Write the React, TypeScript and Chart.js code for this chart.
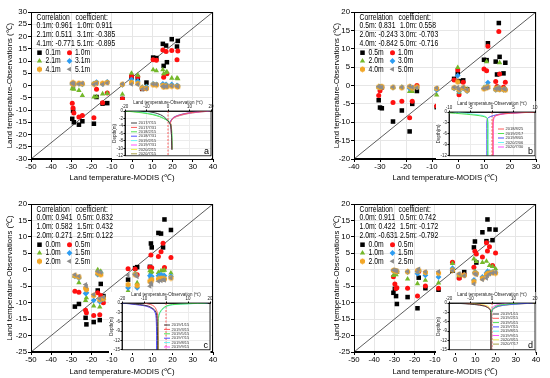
import { useEffect, useRef } from 'react';
import { Chart, registerables } from 'chart.js';
import { drawPoint } from 'chart.js/helpers';

Chart.register(...registerables);

const FONT = "'Liberation Sans', Arial, Helvetica, sans-serif";

// ---------------- Panel a ----------------
const aModis = [-29.6, -29.2, -28.8, -26.3, -24.6, -18.9, -17.6, -14.6, -12.3, -4.8, -0.3, 2.8, 5.0, 7.1, 10.4, 12.0, 15.2, 15.6, 16.8, 17.2, 19.6, 22.2, 22.6];
const aObs01 = [-13.6, -10.3, -15.0, -16.0, -14.6, -15.6, -4.7, -7.4, -7.2, -5.5, 3.4, 2.9, -1.4, 1.2, 11.4, 11.2, 17.0, 8.0, 16.3, 9.5, 18.9, 15.9, 18.2];
const aObs10 = [-7.2, -9.2, -11.2, -12.9, -12.2, -13.2, -1.5, -7.0, -3.1, -5.5, 3.9, 3.6, -1.2, -1.1, 10.5, 10.3, 14.5, 3.4, 13.9, 4.8, 14.3, 10.5, 14.1];
const aObs21 = [-1.3, -0.5, -1.5, -2.0, -4.1, -4.7, -4.6, -3.4, -3.2, -3.6, 5.0, 4.2, -0.8, -0.4, 6.4, 6.0, 6.4, 4.8, 5.3, 5.6, 3.0, 3.0, 2.8];
const aObs31 = [0.6, 0.9, 0.3, 0.7, 0.5, 0.8, 1.4, 0.6, 1.5, 0.3, 2.4, 1.8, -0.8, -0.6, 0.7, 0.5, 0.7, -0.4, 0.5, -0.2, 0.4, 0.0, -0.2];
const aObs41 = [0.8, 1.1, 0.5, 0.9, 0.7, 0.6, 1.0, 0.9, 1.2, 0.5, 1.2, 0.8, -1.0, -1.2, 0.3, 0.2, 0.0, -0.6, -0.2, -0.5, -0.3, -0.4, -0.5];
const aObs51 = [1.0, 0.6, 0.8, 0.6, 0.9, 0.4, 0.8, 0.5, 1.0, 0.6, 0.5, 0.4, -1.5, -1.3, 0.5, 0.4, -0.3, -0.5, -0.4, -0.3, -0.2, -0.3, -0.4];
const aDepths = ['0.1m', '1.0m', '2.1m', '3.1m', '4.1m', '5.1m'];
const aCorr = ['0.961', '0.911', '0.511', '-0.385', '-0.771', '-0.895'];

const aInsetDepth = [0, -0.5, -1, -1.5, -2, -3, -4, -6, -8, -10.3];
const aInsetDates = ['2017/7/15', '2017/7/31', '2018/2/15', '2018/7/31', '2019/2/15', '2019/7/31', '2020/2/15', '2020/7/15'];
const aProfiles = [
  [-11, -6, -3.5, -2, -1, 0.5, 1.3, 1.6, 1.7, 1.8],
  [18, 10, 6, 3.5, 2.2, 1.2, 1.4, 1.6, 1.7, 1.8],
  [-20, -12, -7, -4, -2, 0.8, 1.5, 1.8, 1.9, 2.0],
  [17, 9.5, 5.5, 3.2, 2.0, 1.1, 1.4, 1.6, 1.7, 1.8],
  [-17, -10, -6, -3.5, -1.8, 0.7, 1.4, 1.7, 1.8, 1.9],
  [19.5, 11, 6.5, 3.8, 2.3, 1.0, 1.4, 1.6, 1.7, 1.8],
  [-19, -11, -6.5, -3.8, -1.9, 0.8, 1.5, 1.7, 1.8, 1.9],
  [20, 11.5, 7, 4, 2.4, 1.1, 1.4, 1.6, 1.7, 1.8],
];

// ---------------- Panel b ----------------
const bModis = [-30.5, -30.0, -29.3, -25.0, -21.6, -18.6, -17.6, -15.8, -8.2, -1.5, -0.1, 0.4, 2.0, 3.5, 10.0, 11.0, 11.5, 14.5, 15.0, 15.7, 16.0, 17.5, 18.2];
const bObs05 = [-4.0, -6.0, -6.2, -9.8, -6.8, -12.5, -5.0, -1.5, -5.9, 1.8, 3.2, 1.2, 1.4, -1.0, 7.0, 6.9, 11.5, 6.5, 3.0, 17.0, 7.8, 3.3, 6.2];
const bObs10 = [-2.7, -1.4, -0.6, -4.6, -4.3, -8.8, -4.3, 0.0, -5.6, 1.5, 4.2, -2.5, 0.9, -1.3, 4.5, 4.0, 10.7, 1.1, -0.3, 14.7, 3.1, -0.5, 0.9];
const bObs20 = [-0.4, -0.5, -0.6, -0.5, -0.5, -1.6, -1.6, -0.5, -2.6, -0.8, 4.9, -1.8, -0.7, -1.0, -0.6, 6.5, -0.5, -0.8, -0.7, -0.6, 6.2, -0.9, -1.0];
const bObs30 = [-0.5, -0.3, -0.4, -0.6, -0.5, -0.8, -0.6, -0.5, -1.2, -0.8, 2.7, -1.6, -0.8, -1.5, -0.8, -0.3, 0.8, -1.2, -1.0, -0.5, -1.0, -1.2, -1.1];
const bObs40 = [-0.4, -0.5, -0.3, -0.5, -0.6, -0.3, -0.7, -0.4, -0.8, -0.6, 1.0, -1.2, -0.6, -1.3, -0.9, -0.6, -0.4, -1.0, -0.8, -0.7, -1.1, -1.0, -1.2];
const bObs50 = [-0.3, -0.4, -0.5, -0.4, -0.5, -0.2, -0.5, -0.6, -0.7, -0.5, -0.5, -1.0, -0.5, -1.1, -0.8, -0.7, -0.5, -0.9, -0.8, -0.6, -1.0, -0.9, -1.0];
const bDepths = ['0.5m', '1.0m', '2.0m', '3.0m', '4.0m', '5.0m'];
const bCorr = ['0.831', '0.558', '-0.243', '-0.703', '-0.842', '-0.716'];

const bInsetDepth = [0, -0.5, -1, -1.5, -2, -3, -6, -9, -12];
const bInsetDates = ['2018/8/25', '2019/2/17', '2019/8/05', '2020/2/06', '2020/7/30'];
const bProfiles = [
  [10.5, 2.5, 0.8, 0.4, 0.3, 0.2, 0.2, 0.2, 0.2],
  [-13, -7, -3, -1.3, -1.1, -1.0, -1.0, -1.0, -1.0],
  [9, 2.2, 0.3, -0.8, -1.1, -1.2, -1.2, -1.2, -1.2],
  [-9, -5, -2, -1.2, -1.0, -0.9, -0.9, -0.9, -0.9],
  [9.5, 3.0, 1.0, 0.6, 0.4, 0.3, 0.3, 0.3, 0.3],
];

// ---------------- Panel c ----------------
const cModis = [-28.3, -26.3, -23.0, -22.6, -19.0, -17.0, -16.0, -15.5, -14.2, -9.0, -2.0, 1.5, 2.5, 8.8, 9.3, 9.7, 13.0, 14.3, 15.3, 16.0, 19.2];
const cObs00 = [-11.2, -10.4, -14.6, -16.6, -15.9, -6.3, -15.3, -4.3, -8.0, -8.5, -3.0, 0.5, 0.8, 0.9, 8.0, 6.8, 11.2, 11.0, 6.8, 15.3, 12.1];
const cObs05 = [-6.5, -6.8, -12.3, -13.1, -13.9, -7.0, -13.7, -7.8, -10.0, -9.5, 0.3, 0.2, -1.5, 0.8, 4.5, 0.6, 4.0, 5.5, 8.1, 0.7, 3.7];
const cObs10 = [-2.0, -3.9, -9.3, -8.5, -11.0, 0.0, -11.3, -0.5, -8.5, -9.5, -6.4, -1.0, -4.0, -0.3, -0.8, -0.5, -0.8, -0.3, -0.3, -0.1, -1.0];
const cObs15 = [-2.0, -2.5, -7.2, -7.0, -9.3, -1.5, -9.7, -1.0, -9.0, -9.0, -5.5, -1.3, -5.5, -1.8, -2.5, -2.0, -1.8, -1.5, -1.8, -1.8, -2.0];
const cObs20 = [-1.8, -2.2, -5.6, -6.0, -7.8, -1.0, -9.1, -1.5, -8.8, -8.7, -4.5, -1.5, -4.8, -3.5, -3.5, -3.0, -2.8, -2.6, -2.8, -2.8, -2.5];
const cObs25 = [-1.5, -2.0, -4.5, -5.0, -7.5, -0.5, -8.8, -0.8, -8.3, -8.0, -1.7, -1.5, -2.1, -5.0, -4.0, -4.5, -3.5, -3.3, -3.0, -3.2, -2.5];
const cDepths = ['0.0m', '0.5m', '1.0m', '1.5m', '2.0m', '2.5m'];
const cCorr = ['0.941', '0.832', '0.582', '0.432', '0.271', '0.122'];

const cInsetDepth = [0, -0.5, -1, -2, -3, -4, -6, -9, -12, -15];
const cInsetDates = ['2019/1/15', '2019/3/15', '2019/5/15', '2019/7/15', '2019/8/15', '2019/9/15'];
const cProfiles = [
  [-19, -12, -8, -5.5, -4.5, -4.2, -4.0, -3.9, -3.8, -3.8],
  [-10, -7, -5.5, -4.5, -4.0, -3.8, -3.7, -3.6, -3.6, -3.6],
  [18, 3, 0, -1.8, -2.8, -3.3, -3.5, -3.5, -3.4, -3.4],
  [-20, -14, -9, -6, -5, -4.6, -4.4, -4.3, -4.3, -4.3],
  [19, 4, 0.5, -1.5, -2.6, -3.2, -3.6, -3.7, -3.8, -3.8],
  [-18, -13, -8.5, -5.8, -4.8, -4.4, -4.2, -4.1, -4.1, -4.1],
];

// ---------------- Panel d ----------------
const dModis = [-30.5, -29.8, -29.2, -28.8, -23.5, -18.6, -18.0, -14.7, -8.2, -1.3, 2.0, 4.5, 9.3, 9.8, 10.5, 13.5, 15.5, 16.0, 17.0, 18.5, 20.0];
const dObs00 = [-7.0, -5.8, -8.0, -10.4, -8.3, -11.7, -2.4, -5.6, -6.4, -0.3, -2.4, -0.7, 6.8, 8.6, 2.2, 11.4, 8.7, 15.3, 12.3, 9.0, 12.2];
const dObs05 = [-2.1, -4.3, -5.7, -5.5, -5.6, -8.0, -0.5, -4.9, -5.6, 2.3, -2.6, -1.5, 0.8, 5.6, 4.8, 3.9, 8.2, 5.7, 7.0, 1.3, 5.1];
const dObs10 = [-1.7, -0.3, -1.5, -0.8, -2.8, -4.2, -0.2, -3.2, -4.0, 1.9, -1.8, -1.5, 3.3, -0.5, 2.5, 2.2, 2.6, -0.5, 1.3, 1.0, 0.3];
const dObs15 = [-0.3, -0.4, -0.5, -0.6, -0.7, -1.2, -0.3, -1.7, -2.2, 0.5, -1.5, -1.6, -3.1, -0.8, -1.0, -2.2, -1.0, -0.5, -0.7, -0.7, -0.8];
const dObs20 = [-0.2, -0.3, -0.4, -0.5, -0.6, -0.3, -0.2, -0.8, -1.0, -0.1, -1.4, -1.7, -3.6, -1.0, -1.2, -2.6, -1.5, -1.2, -1.0, -0.9, -1.0];
const dObs25 = [-0.1, -0.2, -0.3, -0.4, -0.5, -0.6, 0.2, -0.6, -0.5, -0.2, -1.2, -1.8, -4.3, -1.2, -1.5, -3.0, -2.6, -1.8, -1.3, -1.0, -0.8];
const dDepths = ['0.0m', '0.5m', '1.0m', '1.5m', '2.0m', '2.5m'];
const dCorr = ['0.911', '0.742', '0.422', '-0.172', '-0.631', '-0.792'];

const dInsetDepth = [0, -0.5, -1, -2, -3, -6, -9, -12, -15];
const dInsetDates = ['2019/1/15', '2019/2/15', '2019/5/15', '2019/7/15', '2019/8/15', '2019/9/15', '2020/3/15', '2020/7/17'];
const dProfiles = [
  [-18, -8, -3.5, -1.0, -0.6, -0.5, -0.5, -0.5, -0.5],
  [-15, -7, -3, -0.9, -0.6, -0.5, -0.5, -0.5, -0.5],
  [12, 5, 2, 0.2, -0.3, -0.5, -0.5, -0.5, -0.5],
  [19, 8, 3, 0.3, -0.2, -0.4, -0.5, -0.5, -0.5],
  [17, 7, 2.5, 0.2, -0.3, -0.4, -0.5, -0.5, -0.5],
  [8, 3, 1, 0, -0.3, -0.4, -0.5, -0.5, -0.5],
  [-12, -5, -2, -0.7, -0.5, -0.5, -0.5, -0.5, -0.5],
  [20, 9, 3.5, 0.4, -0.2, -0.4, -0.5, -0.5, -0.5],
];

// ---------------- styles ----------------
function hexMarker(color: string) {
  const size = 7;
  const c = document.createElement('canvas');
  c.width = size;
  c.height = size;
  const g = c.getContext('2d')!;
  g.fillStyle = color;
  g.beginPath();
  for (let i = 0; i < 6; i++) {
    const a = Math.PI / 6 + (i * Math.PI) / 3;
    const px = size / 2 + 2.9 * Math.cos(a);
    const py = size / 2 + 2.9 * Math.sin(a);
    if (i) g.lineTo(px, py);
    else g.moveTo(px, py);
  }
  g.closePath();
  g.fill();
  return c;
}

const SERIES_COLORS = ['#000000', '#ff1010', '#74b82a', '#2c9cf2', '#f2a626', '#8c8c8c'];
function seriesStyles() {
  return [
    { style: 'rect', r: 3.2, rot: 0 },
    { style: 'circle', r: 2.5, rot: 0 },
    { style: 'triangle', r: 3.1, rot: 0 },
    { style: 'rectRot', r: 2.9, rot: 0 },
    { style: hexMarker(SERIES_COLORS[4]), r: 3, rot: 0 },
    { style: 'triangle', r: 2.9, rot: -90 },
  ];
}
const INSET_COLORS = ['#404040', '#ff5a5a', '#52e052', '#5050ff', '#6af5f5', '#ff55ff', '#f0ef50', '#a8a048'];

const TEXT_SQUEEZE = 0.8;
function squeezedText(ctx: CanvasRenderingContext2D, text: string, x: number, y: number) {
  ctx.save();
  ctx.translate(x, y);
  ctx.scale(TEXT_SQUEEZE, 1);
  ctx.fillText(text, 0, 0);
  ctx.restore();
}

// ---------------- plugins ----------------
const annotPlugin = {
  id: 'annot',
  afterDatasetsDraw(chart: any, _args: any, opts: any) {
    const { ctx, chartArea } = chart;
    const L = chartArea.left;
    const T = chartArea.top;
    ctx.save();
    ctx.fillStyle = '#000';
    ctx.font = `8.5px ${FONT}`;
    ctx.textBaseline = 'middle';
    ctx.textAlign = 'left';
    const rows = [5.3, 14, 22.7, 31.3];
    const c1 = 5.5;
    const c2 = 46;
    squeezedText(ctx, 'Correlation', L + c1, T + rows[0]);
    squeezedText(ctx, 'coefficient:', L + c2 - 1.5, T + rows[0]);
    for (let r = 0; r < 3; r++) {
      squeezedText(ctx, `${opts.labels[2 * r]}: ${opts.corr[2 * r]}`, L + c1, T + rows[r + 1]);
      squeezedText(ctx, `${opts.labels[2 * r + 1]}: ${opts.corr[2 * r + 1]}`, L + c2, T + rows[r + 1]);
    }
    const lrows = [40.7, 49, 57.3];
    const styles = opts.styles;
    for (let i = 0; i < 6; i++) {
      const r = Math.floor(i / 2);
      const col = i % 2;
      const mx = L + (col ? 38.5 : 8.5);
      const tx = L + (col ? 44 : 14.5);
      const y = T + lrows[r];
      ctx.fillStyle = SERIES_COLORS[i];
      drawPoint(ctx, { pointStyle: styles[i].style, rotation: styles[i].rot, radius: styles[i].r, borderWidth: 0 } as any, mx, y);
      ctx.fillStyle = '#000';
      squeezedText(ctx, opts.labels[i], tx, y);
    }
    ctx.restore();
  },
  afterDraw(chart: any) {
    const { ctx, chartArea } = chart;
    ctx.save();
    ctx.strokeStyle = '#000';
    ctx.lineWidth = 1;
    const l = Math.round(chartArea.left) + 0.5;
    const t = Math.round(chartArea.top) + 0.5;
    const r = Math.round(chartArea.right) - 0.5;
    const b = Math.round(chartArea.bottom) - 0.5;
    ctx.strokeRect(l, t, r - l, b - t);
    ctx.restore();
  },
};

const insetPlugin = {
  id: 'insetDeco',
  beforeDraw(chart: any) {
    const { ctx, chartArea, height } = chart;
    ctx.save();
    ctx.fillStyle = '#ffffff';
    ctx.fillRect(0, 0, chartArea.right + 0.5, height);
    ctx.restore();
  },
  afterDraw(chart: any, _args: any, opts: any) {
    const { ctx, chartArea } = chart;
    const L = chartArea.left;
    const T = chartArea.top;
    ctx.save();
    ctx.strokeStyle = '#000';
    ctx.lineWidth = 0.8;
    ctx.strokeRect(chartArea.left, chartArea.top, chartArea.right - chartArea.left, chartArea.bottom - chartArea.top);
    ctx.font = `4px ${FONT}`;
    ctx.textBaseline = 'middle';
    ctx.textAlign = 'left';
    opts.dates.forEach((d: string, i: number) => {
      const y = T + opts.ly + i * opts.ls;
      ctx.strokeStyle = INSET_COLORS[opts.colors[i]];
      ctx.lineWidth = 1;
      ctx.beginPath();
      ctx.moveTo(L + opts.lx, y);
      ctx.lineTo(L + opts.lx + 6, y);
      ctx.stroke();
      ctx.fillStyle = '#333';
      ctx.fillText(d, L + opts.lx + 7.5, y);
    });
    ctx.fillStyle = '#000';
    ctx.font = `9px ${FONT}`;
    ctx.textAlign = 'right';
    ctx.textBaseline = 'alphabetic';
    ctx.fillText(opts.letter, chartArea.right - 2, chartArea.bottom - 2);
    ctx.restore();
  },
};

// ---------------- configs ----------------
type MainSpec = {
  modis: number[];
  obs: number[][];
  labels: string[];
  corr: string[];
  xMin: number;
  xMax: number;
  yMin: number;
  yMax: number;
  padL: number;
  padR: number;
  padT: number;
  xH: number;
  xTitlePad: number;
  yTitlePad: number;
};

function mainConfig(p: MainSpec): any {
  const styles = seriesStyles();
  const diag = {
    data: [
      { x: p.xMin, y: p.yMin },
      { x: p.xMax, y: p.yMax },
    ],
    showLine: true,
    borderColor: '#333333',
    borderWidth: 0.8,
    pointRadius: 0,
    order: 10,
  };
  const series = p.obs.map((ys, i) => ({
    data: p.modis.map((x, j) => ({ x, y: ys[j] })),
    pointStyle: styles[i].style,
    pointRadius: styles[i].r,
    pointRotation: styles[i].rot,
    backgroundColor: SERIES_COLORS[i],
    borderColor: SERIES_COLORS[i],
    borderWidth: 0,
    order: 5 - i,
  }));
  return {
    type: 'scatter',
    data: { datasets: [diag, ...series] },
    options: {
      animation: false,
      responsive: false,
      events: [],
      layout: { padding: { left: p.padL, right: p.padR, top: p.padT, bottom: 0 } },
      plugins: {
        legend: { display: false },
        tooltip: { enabled: false },
        annot: { labels: p.labels, corr: p.corr, styles },
      },
      scales: {
        x: {
          type: 'linear',
          min: p.xMin,
          max: p.xMax,
          ticks: { stepSize: 10, font: { size: 7.8, family: FONT }, color: '#000', padding: 0, maxRotation: 0, autoSkip: false },
          grid: { color: '#e6e6e6', tickColor: '#000', tickLength: 3 },
          border: { color: '#000' },
          title: {
            display: true,
            text: 'Land temperature-MODIS (℃)',
            color: '#000',
            font: { size: 7.8, family: FONT },
            padding: { top: 0, bottom: p.xTitlePad },
          },
          afterFit: (s: any) => {
            s.height = p.xH;
          },
        },
        y: {
          type: 'linear',
          min: p.yMin,
          max: p.yMax,
          ticks: { stepSize: 5, font: { size: 7.8, family: FONT }, color: '#000', padding: 1, autoSkip: false },
          grid: { color: '#e6e6e6', tickColor: '#000', tickLength: 3 },
          border: { color: '#000' },
          title: {
            display: true,
            text: 'Land temperature-Observations (℃)',
            color: '#000',
            font: { size: 7.8, family: FONT },
            padding: { top: p.yTitlePad, bottom: 0 },
          },
          afterFit: (s: any) => {
            s.width = 31;
          },
        },
      },
    },
    plugins: [annotPlugin],
  };
}

type InsetSpec = {
  depth: number[];
  profiles: number[][];
  dates: string[];
  colors: number[];
  xMin: number;
  xMax: number;
  xStep: number;
  yMin: number;
  yStep: number;
  letter: string;
  lx: number;
  ly: number;
  ls: number;
  padR: number;
};

function insetConfig(p: InsetSpec): any {
  const lines = p.profiles.map((temps, i) => ({
    data: p.depth.map((d, j) => ({ x: temps[j], y: d })),
    showLine: true,
    borderColor: INSET_COLORS[p.colors[i]],
    borderWidth: 1,
    pointRadius: 0,
    tension: 0.3,
  }));
  const zero = {
    data: [
      { x: 0, y: 0 },
      { x: 0, y: p.yMin },
    ],
    showLine: true,
    borderColor: '#ff2020',
    borderWidth: 0.7,
    borderDash: [2, 1.5],
    pointRadius: 0,
    order: 10,
  };
  const f = { size: 4.5, family: FONT };
  return {
    type: 'scatter',
    data: { datasets: [...lines, zero] },
    options: {
      animation: false,
      responsive: false,
      events: [],
      layout: { padding: { left: 0, right: p.padR, top: 0, bottom: 3 } },
      plugins: {
        legend: { display: false },
        tooltip: { enabled: false },
        insetDeco: { dates: p.dates, colors: p.colors, letter: p.letter, lx: p.lx, ly: p.ly, ls: p.ls },
      },
      scales: {
        x: {
          type: 'linear',
          position: 'top',
          min: p.xMin,
          max: p.xMax,
          ticks: { stepSize: p.xStep, font: f, color: '#222', padding: 0, maxRotation: 0, autoSkip: false },
          grid: { color: '#ececec', tickColor: '#000', tickLength: 1.5 },
          border: { color: '#000', width: 0.8 },
          title: { display: true, text: 'Land temperature-Observation (℃)', color: '#222', font: f, padding: { top: 0.5, bottom: 0 } },
          afterFit: (s: any) => {
            s.height = 11;
          },
        },
        y: {
          type: 'linear',
          min: p.yMin,
          max: 0,
          ticks: { stepSize: p.yStep, font: f, color: '#222', padding: 0.5, autoSkip: false },
          grid: { color: '#ececec', tickColor: '#000', tickLength: 1.5 },
          border: { color: '#000', width: 0.8 },
          title: { display: true, text: 'Depth(m)', color: '#222', font: f, padding: { top: 0.5, bottom: 0 } },
          afterFit: (s: any) => {
            s.width = 13;
          },
        },
      },
    },
    plugins: [insetPlugin],
  };
}

function ChartBox(props: { left: number; top: number; width: number; height: number; make: () => any }) {
  const ref = useRef<HTMLCanvasElement>(null);
  useEffect(() => {
    const chart = new Chart(ref.current as HTMLCanvasElement, props.make());
    return () => chart.destroy();
  }, []);
  return (
    <canvas
      ref={ref}
      width={props.width}
      height={props.height}
      style={{ position: 'absolute', left: props.left, top: props.top, width: props.width, height: props.height }}
    />
  );
}

export default function App() {
  Chart.defaults.font.family = FONT;
  const panelA: MainSpec = {
    modis: aModis, obs: [aObs01, aObs10, aObs21, aObs31, aObs41, aObs51], labels: aDepths, corr: aCorr,
    xMin: -50, xMax: 40, yMin: -30, yMax: 30, padL: 0, padR: 62, padT: 12, xH: 30, xTitlePad: 6, yTitlePad: 5,
  };
  const panelB: MainSpec = {
    modis: bModis, obs: [bObs05, bObs10, bObs20, bObs30, bObs40, bObs50], labels: bDepths, corr: bCorr,
    xMin: -40, xMax: 30, yMin: -20, yMax: 20, padL: 48, padR: 14, padT: 12, xH: 30, xTitlePad: 6, yTitlePad: 9,
  };
  const panelC: MainSpec = {
    modis: cModis, obs: [cObs00, cObs05, cObs10, cObs15, cObs20, cObs25], labels: cDepths, corr: cCorr,
    xMin: -50, xMax: 40, yMin: -25, yMax: 20, padL: 0, padR: 62, padT: 15, xH: 26, xTitlePad: 1, yTitlePad: 5,
  };
  const panelD: MainSpec = {
    modis: dModis, obs: [dObs00, dObs05, dObs10, dObs15, dObs20, dObs25], labels: dDepths, corr: dCorr,
    xMin: -50, xMax: 40, yMin: -25, yMax: 20, padL: 48, padR: 14, padT: 15, xH: 26, xTitlePad: 1, yTitlePad: 9,
  };
  const insetA: InsetSpec = {
    depth: aInsetDepth, profiles: aProfiles, dates: aInsetDates, colors: [0, 1, 2, 3, 4, 5, 6, 7],
    xMin: -20, xMax: 20, xStep: 10, yMin: -12, yStep: 2, letter: 'a', lx: 6, ly: 12, ls: 4.4, padR: 3,
  };
  const insetB: InsetSpec = {
    depth: bInsetDepth, profiles: bProfiles, dates: bInsetDates, colors: [1, 2, 3, 4, 5],
    xMin: -10, xMax: 10, xStep: 5, yMin: -12, yStep: 3, letter: 'b', lx: 49, ly: 17, ls: 4.5, padR: 3,
  };
  const insetC: InsetSpec = {
    depth: cInsetDepth, profiles: cProfiles, dates: cInsetDates, colors: [0, 1, 2, 3, 4, 5],
    xMin: -20, xMax: 20, xStep: 10, yMin: -15, yStep: 3, letter: 'c', lx: 42, ly: 22, ls: 4.4, padR: 3,
  };
  const insetD: InsetSpec = {
    depth: dInsetDepth, profiles: dProfiles, dates: dInsetDates, colors: [0, 1, 2, 3, 4, 5, 6, 7],
    xMin: -20, xMax: 20, xStep: 10, yMin: -15, yStep: 3, letter: 'd', lx: 44, ly: 11, ls: 4.3, padR: 3,
  };
  return (
    <div style={{ position: 'absolute', left: 0, top: 0, width: 550, height: 378, background: '#fff', overflow: 'hidden' }}>
      <ChartBox left={0} top={0} width={275} height={189} make={() => mainConfig(panelA)} />
      <ChartBox left={275} top={0} width={275} height={189} make={() => mainConfig(panelB)} />
      <ChartBox left={0} top={189} width={275} height={189} make={() => mainConfig(panelC)} />
      <ChartBox left={275} top={189} width={275} height={189} make={() => mainConfig(panelD)} />
      <ChartBox left={112} top={100} width={102} height={59} make={() => insetConfig(insetA)} />
      <ChartBox left={436} top={101} width={102} height={58} make={() => insetConfig(insetB)} />
      <ChartBox left={109} top={292} width={104} height={61} make={() => insetConfig(insetC)} />
      <ChartBox left={436} top={292} width={102} height={61} make={() => insetConfig(insetD)} />
    </div>
  );
}
